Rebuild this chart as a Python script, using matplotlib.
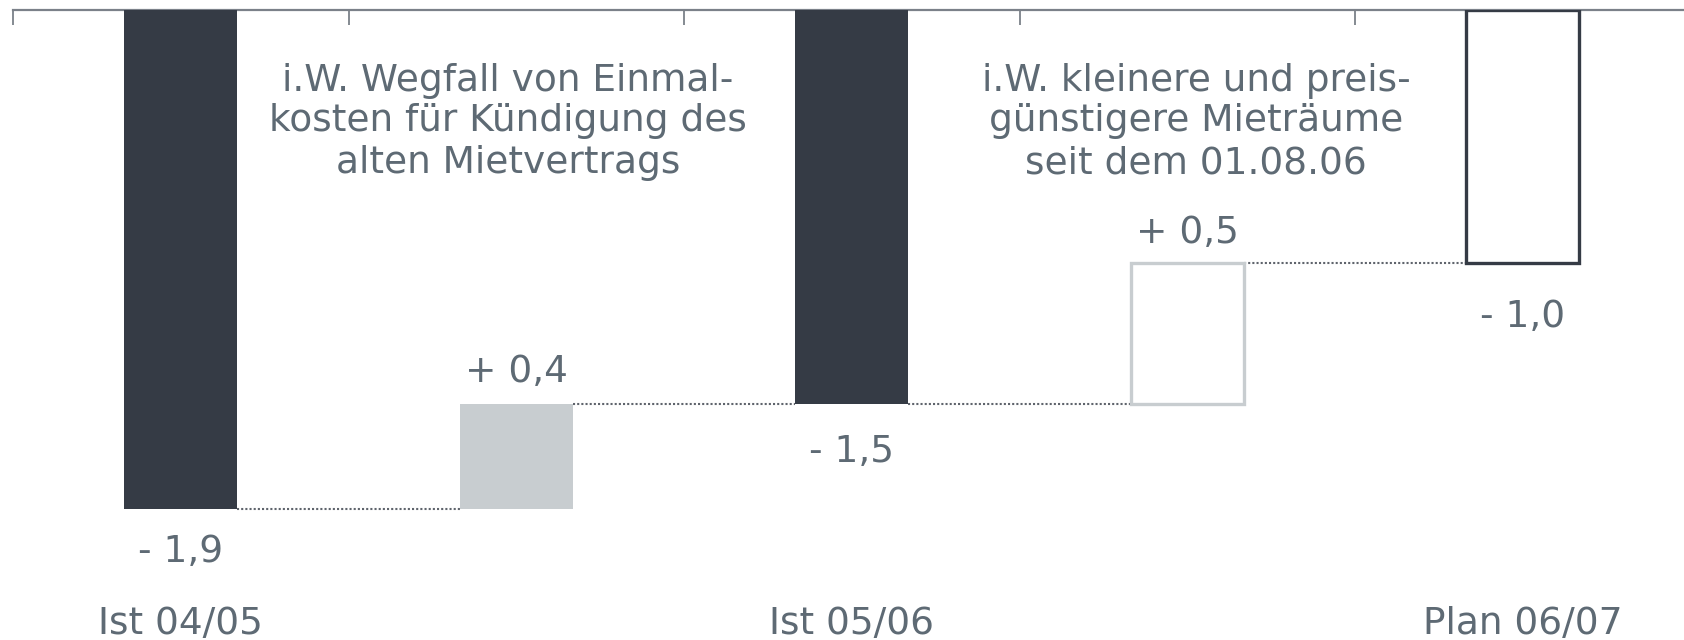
import matplotlib
matplotlib.use("Agg")
import matplotlib.pyplot as plt
from matplotlib.transforms import blended_transform_factory

# ---- data ----
categories = ["Ist 04/05", "", "Ist 05/06", "", "Plan 06/07"]
values = [-1.91, 0.40, -1.51, 0.54, -0.97]
kinds = ["total", "delta", "total", "delta", "total"]
notes = [
    ["i.W. Wegfall von Einmal-", "kosten für Kündigung des", "alten Mietvertrags"],
    ["i.W. kleinere und preis-", "günstigere Mieträume", "seit dem 01.08.06"],
]

# ---- styles / layout ----
DARK = "#353b45"
LIGHT = "#c8cdd0"
TEXT = "#5e6a74"
AXIS = "#7b8189"
bar_styles = [
    dict(facecolor=DARK, edgecolor=DARK, linewidth=0),
    dict(facecolor=LIGHT, edgecolor=LIGHT, linewidth=0),
    dict(facecolor=DARK, edgecolor=DARK, linewidth=0),
    dict(facecolor="white", edgecolor=LIGHT, linewidth=2.4),
    dict(facecolor="white", edgecolor=DARK, linewidth=2.4),
]
label_offsets_px = [43, -32, 48, -30, 54]
note_x = [0.975, 3.026]
FS = 27

W, H, DPI = 1684, 640, 100
fig = plt.figure(figsize=(W / DPI, H / DPI), dpi=DPI)
left_px, top_px = 13, 10
cat_px = 335.5
ax = fig.add_axes([left_px / W, 0, 1 - left_px / W, 1 - top_px / H])
ax.set_xlim(-0.5, -0.5 + (W - left_px) / cat_px)
ax.set_ylim(-(H - top_px) / 261.0, 0)

bar_w = 113 / cat_px
cum = 0.0
levels = []
for i, (v, k) in enumerate(zip(values, kinds)):
    if k == "total":
        bottom, height = 0.0, v
        cum = v
        end = v
        y_label = v
    else:
        bottom, height = cum, v
        cum = cum + v
        end = cum
        y_label = cum
    txt = ("- " if v < 0 else "+ ") + f"{abs(v):.1f}".replace(".", ",")
    ax.bar(i, height, bottom=bottom, width=bar_w, zorder=3, **bar_styles[i])
    levels.append(end)
    ax.annotate(txt, xy=(i, y_label), xytext=(0, -label_offsets_px[i]),
                textcoords="offset pixels", ha="center", va="center",
                fontsize=FS, color=TEXT)

# connectors
for i in range(len(values) - 1):
    ax.plot([i + bar_w / 2, i + 1 - bar_w / 2], [levels[i], levels[i]],
            linestyle=(0, (1, 1)), color="#5f646c", linewidth=1.5, zorder=2)

# category labels
trans = blended_transform_factory(ax.transData, ax.transAxes)
for i, c in enumerate(categories):
    if c:
        ax.text(i, 1 - (624 - top_px) / (H - top_px), c, transform=trans,
                ha="center", va="center", fontsize=FS, color=TEXT)

# notes
line_y_px = [81, 121, 163]
for x, lines in zip(note_x, notes):
    for ln, ypx in zip(lines, line_y_px):
        ax.text(x, 1 - (ypx - top_px) / (H - top_px), ln, transform=trans,
                ha="center", va="center", fontsize=FS, color=TEXT)

# axes styling
for s in ["left", "right", "bottom"]:
    ax.spines[s].set_visible(False)
ax.spines["top"].set_color(AXIS)
ax.spines["top"].set_linewidth(1.6)
ax.set_yticks([])
ax.xaxis.tick_top()
ax.set_xticks([-0.5, 0.5, 1.5, 2.5, 3.5])
ax.set_xticklabels([])
ax.tick_params(axis="x", direction="in", length=11, width=1.3, color=AXIS)

fig.savefig("out.png", dpi=DPI)
